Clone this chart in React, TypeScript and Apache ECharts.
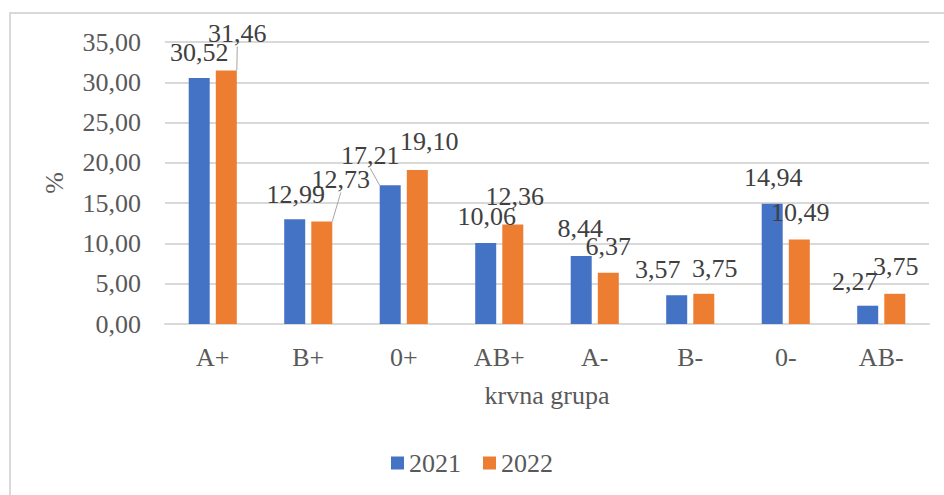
import React, { useEffect, useRef } from "react";
import * as echarts from "echarts";

const categories = ["A+", "B+", "0+", "AB+", "A-", "B-", "0-", "AB-"];
const values2021 = [30.52, 12.99, 17.21, 10.06, 8.44, 3.57, 14.94, 2.27];
const values2022 = [31.46, 12.73, 19.1, 12.36, 6.37, 3.75, 10.49, 3.75];
const seriesNames = ["2021", "2022"];
// label shifts (Excel-style manual placement)
const shift2021 = [[0, -8], [1, -7], [-20, -12], [1, -8], [-1, -9], [-19, -8], [1, -8], [-13, -6]];
const shift2022 = [[11, -19], [19, -24], [12, -11], [2, -10], [0, -8], [11, -7], [1, -9], [1, -9]];
const leader2021 = [false, false, true, false, false, false, false, false];
const leader2022 = [true, true, false, false, false, false, false, false];

const FONT = "Liberation Serif";
const FS = 26;
const fmt = (v: number) => v.toFixed(2).replace(".", ",");

export default function App() {
  const ref = useRef<HTMLDivElement>(null);
  useEffect(() => {
    if (!ref.current) return;
    const chart = echarts.init(ref.current, undefined, { renderer: "svg" });
    const mkSeries = (name: string, vals: number[], color: string, shifts: number[][], leaders: boolean[]) => ({
      name,
      type: "bar",
      barWidth: 21,
      barGap: "29%",
      itemStyle: { color },
      data: vals.map((v, i) => ({ value: v, labelLine: { show: leaders[i] } })),
      label: {
        show: true,
        position: "top",
        distance: 5,
        fontFamily: FONT,
        fontSize: FS,
        color: "#404040",
        formatter: (p: any) => fmt(p.value),
      },
      labelLine: { show: false, lineStyle: { color: "#a6a6a6", width: 1 } },
      labelLayout: (p: any) => ({ dx: shifts[p.dataIndex][0], dy: shifts[p.dataIndex][1] }),
    });
    chart.setOption({
      animation: false,
      textStyle: { fontFamily: FONT },
      graphic: [
        {
          type: "rect",
          shape: { x: 10, y: 13, width: 960, height: 520 },
          style: { fill: "none", stroke: "#d9d9d9", lineWidth: 2 },
          silent: true,
        },
      ],
      grid: { left: 165, right: 15, top: 42, bottom: 171, containLabel: false },
      legend: {
        bottom: 14,
        left: "center",
        itemWidth: 13,
        itemHeight: 13,
        itemGap: 22,
        icon: "rect",
        textStyle: { fontFamily: FONT, fontSize: FS, color: "#595959" },
        data: seriesNames,
      },
      xAxis: {
        type: "category",
        data: categories,
        name: "krvna grupa",
        nameLocation: "middle",
        nameGap: 58,
        nameTextStyle: { fontFamily: FONT, fontSize: FS, color: "#595959" },
        axisLine: { show: true, lineStyle: { color: "#d9d9d9", width: 2 } },
        axisTick: { show: false },
        axisLabel: { fontFamily: FONT, fontSize: FS, color: "#595959", margin: 20 },
      },
      yAxis: {
        type: "value",
        min: 0,
        max: 35,
        interval: 5,
        name: "%",
        nameLocation: "middle",
        nameGap: 98,
        nameRotate: 90,
        nameTextStyle: { fontFamily: FONT, fontSize: FS, color: "#595959" },
        axisLine: { show: false },
        axisTick: { show: false },
        splitLine: { lineStyle: { color: "#d9d9d9", width: 2 } },
        axisLabel: { fontFamily: FONT, fontSize: FS, color: "#595959", margin: 24, formatter: (v: number) => fmt(v) },
      },
      series: [
        mkSeries(seriesNames[0], values2021, "#4472C4", shift2021, leader2021),
        mkSeries(seriesNames[1], values2022, "#ED7D31", shift2022, leader2022),
      ],
    });
    return () => chart.dispose();
  }, []);
  return (
    <div
      ref={ref}
      style={{ position: "fixed", left: 0, top: 0, width: 944, height: 495, background: "#fff" }}
    />
  );
}
